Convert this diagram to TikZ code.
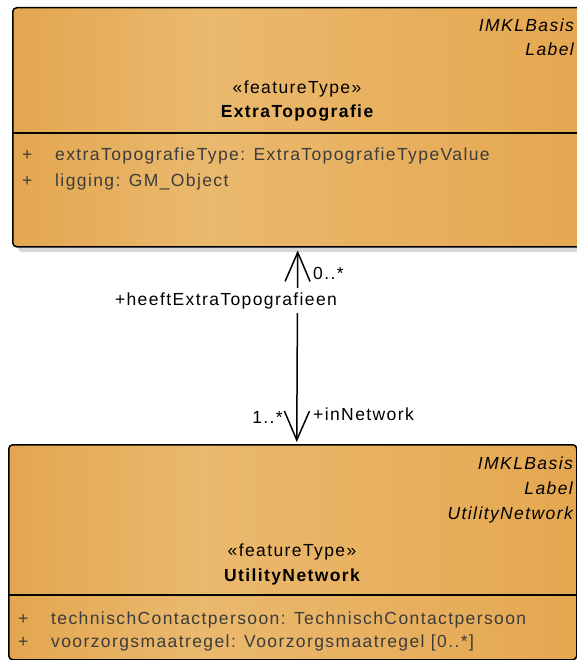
\documentclass[tikz,border=0pt]{standalone}
\usepackage{fontspec}
\setmainfont{Liberation Sans}[LetterSpace=8]
\usetikzlibrary{arrows.meta}
\definecolor{cA}{RGB}{227,166,80}
\definecolor{cB}{RGB}{234,185,110}
\definecolor{cC}{RGB}{229,167,80}
\definecolor{attrgray}{RGB}{60,60,60}
\definecolor{shadowgray}{RGB}{215,215,215}
\pgfdeclarehorizontalshading{umlfill}{100bp}{color(0bp)=(cA); color(25bp)=(cA); color(42bp)=(cB); color(75bp)=(cC); color(100bp)=(cC)}
\tikzset{
  umlbox/.style={draw=black, line width=1.5pt, rounded corners=4pt, shading=umlfill, inner sep=0pt},
  shadowbox/.style={fill=shadowgray, draw=none, rounded corners=4pt, inner sep=0pt},
  divider/.style={draw=black, line width=1.5pt},
  txt/.style={inner sep=0pt, font=\fontsize{17.5}{21}\selectfont},
  stereo/.style={txt, anchor=base},
  title/.style={txt, anchor=base, font=\fontsize{17.5}{21}\selectfont\bfseries},
  pkg/.style={txt, anchor=base east, font=\fontsize{17.5}{21}\selectfont\itshape},
  attr/.style={txt, anchor=base west, text=attrgray},
  assoc/.style={line width=1.5pt, {Straight Barb[length=29pt,width=25pt,line width=1.5pt]}-{Straight Barb[length=29pt,width=25pt,line width=1.5pt]}},
  rolelbl/.style={txt, text=black}
}
\begin{document}
\begin{tikzpicture}[x=1pt,y=-1pt]
\useasboundingbox (0,0) rectangle (577,660);
% shadows
\path[shadowbox] (18,12) rectangle (588,252);
% top box
\node[umlbox, anchor=north west, minimum width=570pt, minimum height=239pt] (top) at (12,7) {};
\draw[divider] (12,133) -- (582,133);
\node[pkg] (t1) at (574,32) {IMKLBasis};
\node[pkg] (t2) at (574,56) {Label};
\node[stereo] (t3) at (297,94) {«featureType»};
\node[title] (t4) at (297,118) {ExtraTopografie};
\node[attr] (t5p) at (22,161) {+};
\node[attr] (t5) at (55,161) {extraTopografieType: ExtraTopografieTypeValue};
\node[attr] (t6p) at (22,186) {+};
\node[attr] (t6) at (55,186) {ligging: GM\_Object};
% bottom box
\node[umlbox, anchor=north west, minimum width=568pt, minimum height=215pt] (bot) at (8,444) {};
\draw[divider] (8,595) -- (576,595);
\node[pkg] (b1) at (573,469) {IMKLBasis};
\node[pkg] (b2) at (573,494) {Label};
\node[pkg] (b3) at (573,519) {UtilityNetwork};
\node[stereo] (b4) at (292,556) {«featureType»};
\node[title] (b5) at (292,581) {UtilityNetwork};
\node[attr] (b6p) at (18,624) {+};
\node[attr] (b6) at (51,624) {technischContactpersoon: TechnischContactpersoon};
\node[attr] (b7p) at (18,647) {+};
\node[attr] (b7) at (51,647) {voorzorgsmaatregel: Voorzorgsmaatregel [0..*]};
% association
\coordinate (ea) at ([xshift=0pt,yshift=-3pt]top.south);
\coordinate (eb) at ([xshift=4pt,yshift=2pt]bot.north);
\draw[assoc] (eb) -- (ea);
\node[rolelbl, anchor=base west] (m1) at (313,279) {0..*};
\node[rolelbl, anchor=base, fill=white, inner ysep=4pt, inner xsep=1pt] (r1) at (226,305) {+heeftExtraTopografieen};
\node[rolelbl, anchor=base east] (m2) at (283,423) {1..*};
\node[rolelbl, anchor=base west] (r2) at (313,420) {+inNetwork};
\end{tikzpicture}
\end{document}
